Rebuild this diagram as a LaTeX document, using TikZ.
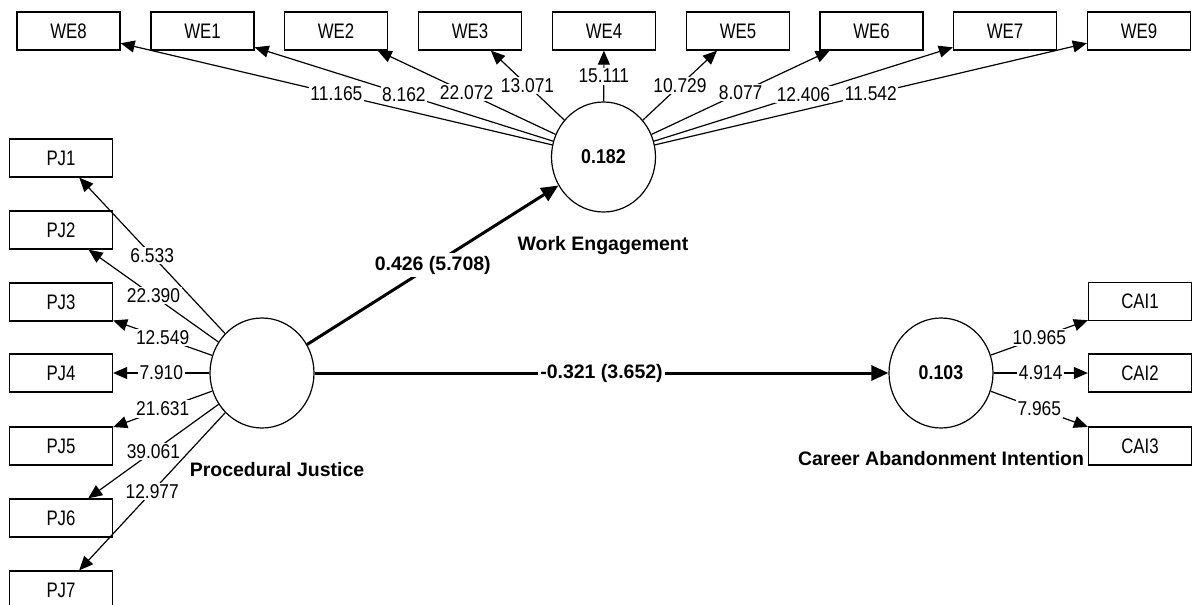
\documentclass[tikz,border=0pt]{standalone}
\usepackage{fontspec}
\setmainfont{Liberation Sans}
\newfontfamily\regfont[FakeStretch=0.87]{Liberation Sans}
\newfontfamily\boxfont[FakeStretch=0.8]{Liberation Sans}
\newfontfamily\valfont[FakeStretch=0.89]{Liberation Sans}
\usetikzlibrary{arrows.meta,shapes.geometric}
\tikzset{
  ind/.style={draw, line width=1.3pt, minimum width=103pt, minimum height=38pt, inner sep=0pt, font=\boxfont\fontsize{21}{21}\selectfont},
  lat/.style={draw, ellipse, line width=1.2pt, minimum width=104pt, minimum height=110pt, inner sep=0pt, font=\valfont\bfseries\fontsize{20}{20}\selectfont},
  load/.style={line width=1.2pt, -{Triangle[length=14pt,width=12pt]}},
  struct/.style={line width=3pt, -{Triangle[length=17pt,width=15pt]}},
  lbl/.style={fill=white, inner sep=1.5pt, font=\regfont\fontsize{20}{20}\selectfont},
  plbl/.style={fill=white, inner sep=2.5pt, font=\bfseries\fontsize{19.5}{20}\selectfont},
  latname/.style={font=\bfseries\fontsize{19.5}{20}\selectfont}
}
\begin{document}
\begin{tikzpicture}[x=1pt,y=-1pt]
\path[use as bounding box, fill=white] (0,0) rectangle (1192,605);
% latent variables
\node[lat] (WE) at (603.5,157) {0.182};
\node[lat] (PJ) at (262,373) {};
\node[lat] (CAI) at (941,373) {0.103};
\node[latname] (nWE) at (603,245) {Work Engagement};
\node[latname] (nPJ) at (277,470) {Procedural Justice};
\node[latname] (nCAI) at (941,459) {Career Abandonment Intention};
% indicators
\foreach \n/\x in {8/68.5,1/202.5,2/336,3/470,4/604,5/738,6/871.5,7/1005,9/1139}
  \node[ind] (WE\n) at (\x,31) {WE\n};
\foreach \n/\y in {1/158,2/230,3/302,4/373,5/446,6/518,7/590}
  \node[ind] (PJ\n) at (61,\y) {PJ\n};
\foreach \n/\y in {1/301.5,2/373,3/446}
  \node[ind] (CAI\n) at (1140,\y) {CAI\n};
% loadings
\foreach \n in {8,1,2,3,4,5,6,7,9} \draw[load] (WE) -- (WE\n);
\foreach \n in {1,...,7} \draw[load] (PJ) -- (PJ\n);
\foreach \n in {1,2,3} \draw[load] (CAI) -- (CAI\n);
% structural paths
\draw[struct] (PJ) -- (WE);
\draw[struct] (PJ) -- (CAI);
% labels
\foreach \n/\v in {8/11.165,1/8.162,2/22.072,3/13.071,4/15.111,5/10.729,6/8.077,7/12.406,9/11.542}
  \path (WE) -- (WE\n) node[midway,lbl] {\v};
\foreach \n/\v in {1/6.533,2/22.390,3/12.549,4/7.910,5/21.631,6/39.061,7/12.977}
  \path (PJ) -- (PJ\n) node[midway,lbl] {\v};
\foreach \n/\v in {1/10.965,2/4.914,3/7.965}
  \path (CAI) -- (CAI\n) node[midway,lbl] {\v};
\path (PJ) -- (WE) node[midway,plbl] {0.426 (5.708)};
\path (PJ) -- (CAI) node[midway,plbl] {-0.321 (3.652)};
\end{tikzpicture}
\end{document}
